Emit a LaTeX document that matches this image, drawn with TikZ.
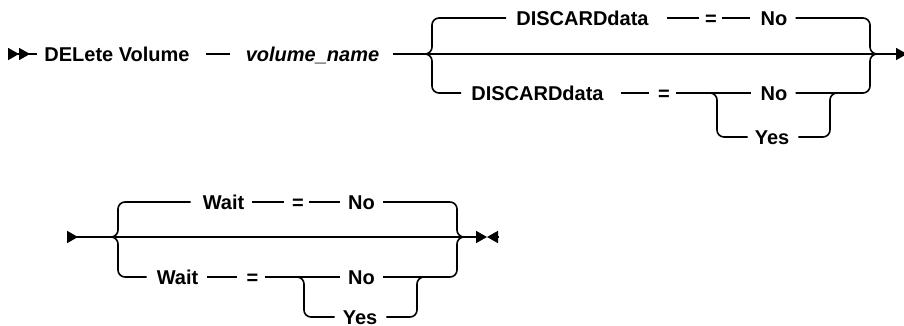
\documentclass[tikz,border=0pt]{standalone}
\usepackage{fontspec}
\setmainfont{Liberation Sans}
\usetikzlibrary{arrows.meta, positioning}

\begin{document}
\begin{tikzpicture}[
  x=1pt, y=-1pt,
  lbl/.style={inner sep=0pt, text height=14.5pt, text depth=0pt, font=\fontsize{20}{24}\selectfont\bfseries},
  rail/.style={line width=1.6pt, rounded corners=7pt},
  gap/.style 2 args={shorten <=#1, shorten >=#2},
  Head/.tip={Triangle[length=11pt, width=12pt]}
]
\useasboundingbox (0,0) rectangle (904,326);

% Nodes
\node[lbl] (del) at (117,54) {DELete Volume};
\node[lbl, font=\fontsize{20}{24}\selectfont\bfseries\itshape] (vol) at (312.5,54) {volume\_name};
\node[lbl] (d1) at (582.5,18) {DISCARDdata};
\node[lbl] (eq1) at (711,18) {=};
\node[lbl] (no1) at (774,18) {No};
\node[lbl] (d2) at (537.5,93) {DISCARDdata};
\node[lbl] (eq2) at (664,93) {=};
\node[lbl] (no2) at (774,93) {No};
\node[lbl] (yes1) at (772,137) {Yes};

\node[lbl] (w1) at (223.5,202) {Wait};
\node[lbl] (eq3) at (298,202) {=};
\node[lbl] (no3) at (361.5,202) {No};
\node[lbl] (w2) at (177.5,277) {Wait};
\node[lbl] (eq4) at (252.5,277) {=};
\node[lbl] (no4) at (361.5,277) {No};
\node[lbl] (yes2) at (360,317) {Yes};

% Rail points
\coordinate (st1) at (8,54);
\coordinate (e1) at (907,54);
\coordinate (fA) at (432,54);
\coordinate (fB) at (870,54);
\coordinate (iA) at (717,93);
\coordinate (iB) at (830,93);
\coordinate (st2) at (67,237);
\coordinate (t2) at (487,237);
\coordinate (e2) at (498,237);
\coordinate (fC) at (118,237);
\coordinate (fD) at (457,237);
\coordinate (iC) at (304,277);
\coordinate (iD) at (417,277);

% Pointers
\draw[rail, {Head[reversed] Head[reversed]}-, shorten >=7pt] (st1) -- (del);
\draw[rail, gap={16pt}{16pt}] (del) -- (vol);
\draw[rail, shorten <=14pt, -Head] (vol) -- (e1);
\draw[rail, shorten >=10pt] ([xshift=-7pt]fA) -- (fA) |- (d1);
\draw[rail, shorten >=10pt] ([xshift=-7pt]fA) -- (fA) |- (d2);
\draw[rail, gap={18pt}{6pt}] (d1) -- (eq1);
\draw[rail, gap={5pt}{10pt}] (eq1) -- (no1);
\draw[rail, shorten <=8pt] (no1) -| (fB) -- ([xshift=7pt]fB);
\draw[rail, gap={17pt}{9pt}] (d2) -- (eq2);
\draw[rail, gap={6pt}{9pt}] (eq2) -- (no2);
\draw[rail, shorten >=7pt] ([xshift=-7pt]iA) -- (iA) |- (yes1);
\draw[rail, shorten <=9pt] (yes1) -| (iB) -- ([xshift=7pt]iB);
\draw[rail, shorten <=8pt] (no2) -| (fB) -- ([xshift=7pt]fB);

\draw[rail, {Head[reversed]}-Head] (st2) -- (t2);
\draw[rail, {Head}-] (t2) -- (e2);
\draw[rail, shorten >=12pt] ([xshift=-7pt]fC) -- (fC) |- (w1);
\draw[rail, shorten >=10pt] ([xshift=-7pt]fC) -- (fC) |- (w2);
\draw[rail, gap={8pt}{8pt}] (w1) -- (eq3);
\draw[rail, gap={5pt}{8pt}] (eq3) -- (no3);
\draw[rail, shorten <=8pt] (no3) -| (fD) -- ([xshift=7pt]fD);
\draw[rail, gap={9pt}{9pt}] (w2) -- (eq4);
\draw[rail, gap={6pt}{8pt}] (eq4) -- (no4);
\draw[rail, shorten >=8pt] ([xshift=-7pt]iC) -- (iC) |- (yes2);
\draw[rail, shorten <=9pt] (yes2) -| (iD) -- ([xshift=7pt]iD);
\draw[rail, shorten <=8pt] (no4) -| (fD) -- ([xshift=7pt]fD);
\end{tikzpicture}
\end{document}
